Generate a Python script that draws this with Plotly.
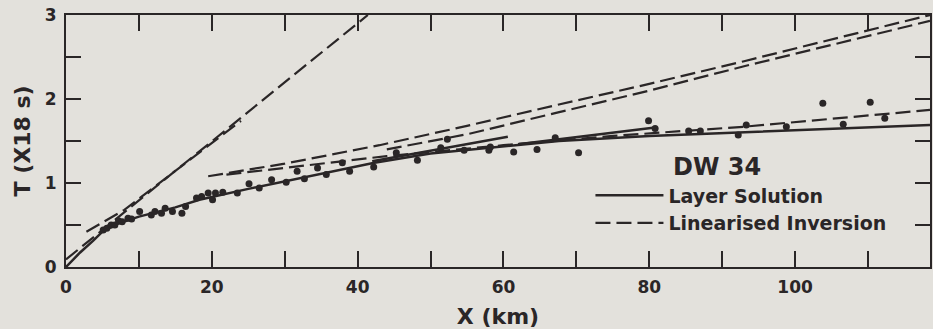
import plotly.graph_objects as go

# Observed arrival times: distance (km) and reduced travel time
obs_x = [5.1, 5.6, 6.2, 6.7, 7.2, 7.7, 8.5, 9.0, 10.1, 11.7, 12.2, 13.1, 13.6, 14.6,
         15.9, 16.4, 17.9, 18.6, 19.5, 20.1, 20.5, 21.5, 23.5, 25.1, 26.5, 28.2, 30.2,
         31.7, 32.7, 34.5, 35.7, 37.9, 38.9, 42.2, 45.3, 48.2, 51.4, 52.3, 54.6, 58.0,
         58.2, 61.4, 64.6, 67.1, 70.3, 79.9, 80.8, 85.4, 87.0, 92.2, 93.3, 98.8, 103.8,
         106.6, 110.3, 112.3]
obs_t = [0.44, 0.46, 0.50, 0.50, 0.55, 0.54, 0.58, 0.57, 0.66, 0.62, 0.66, 0.64, 0.70, 0.66,
         0.64, 0.72, 0.82, 0.84, 0.88, 0.80, 0.88, 0.89, 0.88, 0.99, 0.94, 1.04, 1.01,
         1.14, 1.05, 1.18, 1.10, 1.24, 1.14, 1.19, 1.36, 1.27, 1.42, 1.52, 1.39, 1.39,
         1.43, 1.37, 1.40, 1.54, 1.36, 1.74, 1.65, 1.62, 1.62, 1.57, 1.69, 1.67, 1.95,
         1.70, 1.96, 1.77]

# Layer solution travel-time branches
layer_main_x = [0, 1.9, 3.7, 5, 7, 10, 15, 18.3, 25, 30, 35, 42.3, 50, 60, 67.6, 80, 94, 118.5]
layer_main_t = [0, 0.17, 0.31, 0.42, 0.51, 0.60, 0.71, 0.80, 0.93, 1.02, 1.11, 1.24, 1.35,
                1.44, 1.50, 1.56, 1.61, 1.69]
layer_b2_x = [42, 60.6]
layer_b2_t = [1.26, 1.55]
layer_b3_x = [62, 80.8]
layer_b3_t = [1.46, 1.66]

# Linearised inversion travel-time curves
lin_steep_x = [0, 41.4]
lin_steep_t = [0.09, 3.0]
lin_steep2_x = [2.8, 8, 24]
lin_steep2_t = [0.42, 0.68, 1.74]
lin_up1_x = [19.5, 30, 43, 55, 67.4, 80, 93, 118.5]
lin_up1_t = [1.08, 1.23, 1.45, 1.68, 1.93, 2.18, 2.45, 3.0]
lin_up2_x = [44, 55, 67.5, 80, 93, 118.5]
lin_up2_t = [1.40, 1.58, 1.84, 2.10, 2.39, 2.93]
lin_low_x = [22, 44, 60, 75, 93, 118.5]
lin_low_t = [1.10, 1.32, 1.45, 1.56, 1.67, 1.87]

x_tick_vals = [0, 10, 20, 30, 40, 50, 60, 70, 80, 90, 100, 110]
x_tick_text = ["0", "", "20", "", "40", "", "60", "", "80", "", "100", ""]
y_tick_vals = [0, 0.5, 1, 1.5, 2, 2.5, 3]
y_tick_text = ["0", "", "1", "", "2", "", "3"]

INK = "#2a2627"
BG = "#e3e1dc"
DASH = "15px,6px"
FONT = "DejaVu Sans"

fig = go.Figure()

solid = dict(color=INK, width=2.5)
dashed = dict(color=INK, width=2.2, dash=DASH)

fig.add_trace(go.Scatter(x=layer_main_x, y=layer_main_t, mode="lines", line=solid,
                         name="Layer Solution", showlegend=True))
fig.add_trace(go.Scatter(x=layer_b2_x, y=layer_b2_t, mode="lines", line=solid, showlegend=False))
fig.add_trace(go.Scatter(x=layer_b3_x, y=layer_b3_t, mode="lines", line=solid, showlegend=False))

fig.add_trace(go.Scatter(x=lin_steep_x, y=lin_steep_t, mode="lines", line=dashed,
                         name="Linearised Inversion", showlegend=True))
for xs, ts in [(lin_steep2_x, lin_steep2_t), (lin_up1_x, lin_up1_t),
               (lin_up2_x, lin_up2_t), (lin_low_x, lin_low_t)]:
    fig.add_trace(go.Scatter(x=xs, y=ts, mode="lines", line=dashed, showlegend=False))

fig.add_trace(go.Scatter(x=obs_x, y=obs_t, mode="markers",
                         marker=dict(color=INK, size=7), showlegend=False))

fig.add_annotation(text="DW 34", xref="paper", yref="paper", x=0.7, y=0.395,
                   xanchor="left", yanchor="middle", showarrow=False,
                   font=dict(family=FONT, size=24, color=INK, weight="bold"))

axis_common = dict(
    showline=True, linecolor=INK, linewidth=2, mirror="ticks",
    ticks="inside", tickwidth=2, tickcolor=INK,
    showgrid=False, zeroline=False,
    tickfont=dict(family=FONT, size=17, color=INK, weight="bold"),
)

fig.update_layout(
    width=933, height=329,
    margin=dict(l=66, r=1, t=15, b=62),
    paper_bgcolor=BG, plot_bgcolor=BG,
    xaxis=dict(range=[0, 118.5], tickmode="array", tickvals=x_tick_vals, ticktext=x_tick_text,
               ticklen=16, ticklabelstandoff=4,
               title=dict(text="X (km)", standoff=12,
                          font=dict(family=FONT, size=22, color=INK, weight="bold")),
               **axis_common),
    yaxis=dict(range=[0, 3], tickmode="array", tickvals=y_tick_vals, ticktext=y_tick_text,
               ticklen=15, ticklabelstandoff=4,
               title=dict(text="T (X18 s)", standoff=8,
                          font=dict(family=FONT, size=22, color=INK, weight="bold")),
               **axis_common),
    legend=dict(x=0.607, y=0.36, xanchor="left", yanchor="top", bgcolor="rgba(0,0,0,0)",
                itemwidth=68,
                font=dict(family=FONT, size=19, color=INK, weight="bold")),
    showlegend=True,
)

fig.write_html("out.html")
